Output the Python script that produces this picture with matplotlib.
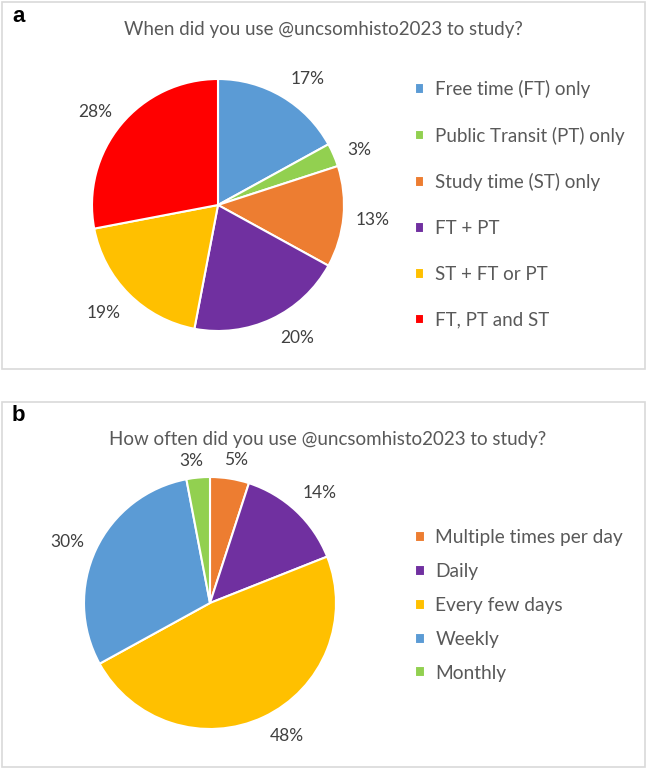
"""
UNC SOM histology Instagram survey: two pie charts (a, b)
"""

import matplotlib.pyplot as plt
import numpy as np
from matplotlib.patches import Rectangle

# panel a
when_labels = [
    "Free time (FT) only",
    "Public Transit (PT) only",
    "Study time (ST) only",
    "FT + PT",
    "ST + FT or PT",
    "FT, PT and ST",
]
when_values = [17, 3, 13, 20, 19, 28]
when_colors = ["#5B9BD5", "#92D050", "#ED7D31", "#7030A0", "#FFC000", "#FF0000"]

# panel b
often_labels = ["Multiple times per day", "Daily", "Every few days", "Weekly", "Monthly"]
often_values = [5, 14, 48, 30, 3]
often_colors = ["#ED7D31", "#7030A0", "#FFC000", "#5B9BD5", "#92D050"]

plt.rcParams["font.family"] = ["Lato", "DejaVu Sans"]

W, H = 649, 770
fig = plt.figure(figsize=(W / 100, H / 100), dpi=100)
TEXT = "#595959"


def px_axes(cx, cy, r):
    # square axes centred on (cx, cy) in pixel coords (origin top-left)
    return fig.add_axes([(cx - r) / W, 1 - (cy + r) / H, 2 * r / W, 2 * r / H])


def draw_pie(ax, values, colors, nudge, dist):
    wedges, _ = ax.pie(
        values,
        colors=colors,
        startangle=90,
        counterclock=False,
        wedgeprops=dict(edgecolor="white", linewidth=1.5),
    )
    ax.set_xlim(-1, 1)
    ax.set_ylim(-1, 1)
    ax.set_aspect("equal")
    ax.axis("off")
    # Excel-style "best fit" labels: mid angle plus a small nudge
    for w, v, a, d in zip(wedges, values, nudge, dist):
        ang = np.deg2rad((w.theta1 + w.theta2) / 2 + a)
        ax.text(d * np.cos(ang), d * np.sin(ang), f"{v}%", ha="center",
                va="center", fontsize=12.5, color="#404040", clip_on=False)
    return wedges


def frame(y0, y1):
    fig.patches.append(
        Rectangle((2 / W, 1 - y1 / H), (645 - 2) / W, (y1 - y0) / H,
                  transform=fig.transFigure, fill=False,
                  edgecolor="#d9d9d9", linewidth=1.2)
    )


# ---- a ----
frame(2, 369)
fig.text(12 / W, 1 - 16 / H, "a", fontsize=16, fontweight="bold",
         family="Liberation Sans", va="center", ha="left")
fig.text(323 / W, 1 - 30 / H, "When did you use @uncsomhisto2023 to study?",
         fontsize=13.5, color=TEXT, ha="center", va="center")
ax1 = px_axes(218, 205, 126)
w1 = draw_pie(ax1, when_values, when_colors,
              [-4.7, -2.1, -0.2, 5.4, -1.6, 2.5],
              [1.23, 1.20, 1.23, 1.23, 1.25, 1.22])
fig.legend(w1, when_labels, loc="upper left",
           bbox_to_anchor=(398 / W, 1 - 63 / H), frameon=False,
           fontsize=13.5, labelcolor=TEXT, handlelength=0.5, handleheight=0.5,
           handletextpad=0.55, labelspacing=1.53)

# ---- b ----
frame(402, 767)
fig.text(12 / W, 1 - 416 / H, "b", fontsize=16, fontweight="bold",
         family="Liberation Sans", va="center", ha="left")
fig.text(328 / W, 1 - 440 / H, "How often did you use @uncsomhisto2023 to study?",
         fontsize=13.5, color=TEXT, ha="center", va="center")
ax2 = px_axes(210, 603, 126)
w2 = draw_pie(ax2, often_values, often_colors,
              [-1.2, -1.8, 4.7, 1.9, 1.9],
              [1.15, 1.235, 1.22, 1.23, 1.14])
fig.legend(w2, often_labels, loc="upper left",
           bbox_to_anchor=(398 / W, 1 - 512 / H), frameon=False,
           fontsize=13.8, labelcolor=TEXT, handlelength=0.5, handleheight=0.5,
           handletextpad=0.55, labelspacing=0.88)

fig.savefig("out.png", dpi=100)
